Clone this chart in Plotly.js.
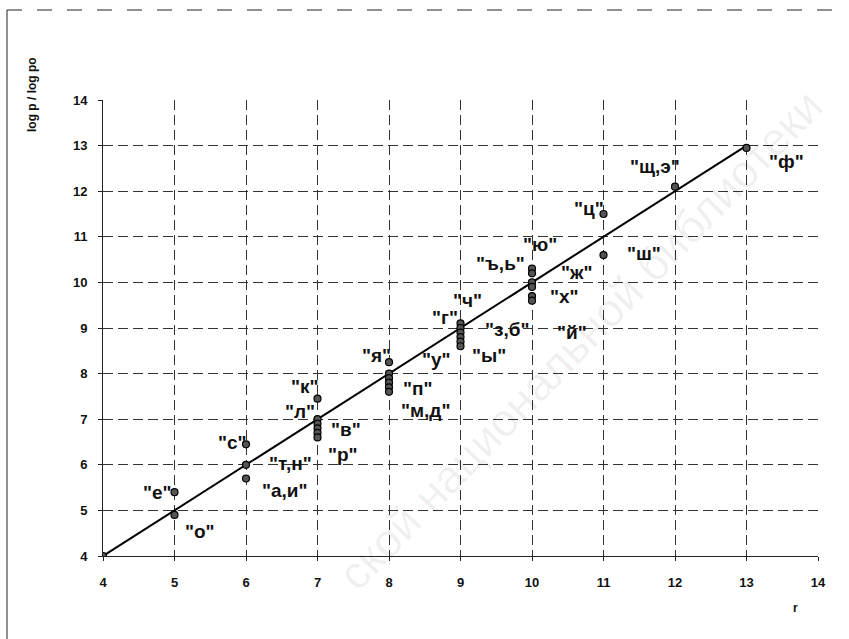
<!DOCTYPE html>
<html>
<head>
<meta charset="utf-8">
<script src="https://cdn.plot.ly/plotly-3.0.1.min.js"></script>
<style>html,body{margin:0;padding:0;background:#fff;}#chart{width:849px;height:639px;}</style>
</head>
<body>
<div id="chart"></div>
<script>
// Data
const rValues = [4, 5, 5, 6, 6, 6, 7, 7, 7, 7, 7, 7, 8, 8, 8, 8, 8, 8, 9, 9, 9, 9, 9, 9, 10, 10, 10, 10, 10, 10, 11, 11, 12, 13];
const logRatio = [4.0, 5.4, 4.9, 6.45, 6.0, 5.7, 7.45, 7.0, 6.9, 6.8, 6.7, 6.6, 8.25, 8.0, 7.9, 7.8, 7.7, 7.6, 9.1, 9.0, 8.9, 8.8, 8.7, 8.6, 10.3, 10.2, 10.0, 9.9, 9.7, 9.6, 11.5, 10.6, 12.1, 12.95];
const pointLabels = ["", "е", "о", "с", "т,н", "а,и", "к", "л", "в", "", "", "р", "я", "у", "п", "", "м,д", "", "ч", "г", "з,б", "", "", "ы", "ю", "ъ,ь", "ж", "", "й", "х", "ц", "ш", "щ,э", "ф"];
const fitX = [4, 13];
const fitY = [4, 13];
const tickVals = [4, 5, 6, 7, 8, 9, 10, 11, 12, 13, 14];

// label placement offsets (pixels) – styling only
const labelOffsets = {
  "е": [-17, 0], "о": [25, 17], "с": [-14, -2], "т,н": [44, -1], "а,и": [39, 12],
  "к": [-13, -12], "л": [-18, -8], "в": [28, 6], "р": [25, 17],
  "я": [-13, -7], "у": [47, -14], "п": [29, 10], "м,д": [36, 23],
  "г": [-16, -11], "ч": [7, -23], "з,б": [46, -3], "ы": [28, 9],
  "ъ,ь": [-32, -10], "ю": [8, -24], "ж": [45, -10], "х": [32, -4], "й": [40, 36],
  "ц": [-15, -6], "ш": [40, -2], "щ,э": [-20, -20], "ф": [40, 14]
};

const labelFont = {family: 'Liberation Sans, Arial, sans-serif', size: 19, color: '#111', weight: 'bold'};
const annotations = [];
pointLabels.forEach((lab, i) => {
  if (!lab) return;
  const off = labelOffsets[lab] || [15, -10];
  annotations.push({
    x: rValues[i], y: logRatio[i], xref: 'x', yref: 'y',
    text: '"' + lab + '"', showarrow: true, arrowcolor: 'rgba(0,0,0,0)', arrowwidth: 0.1,
    ax: off[0], ay: off[1], standoff: 0, font: labelFont
  });
});
annotations.push({
  xref: 'paper', yref: 'paper', x: (32 - 103) / 715, y: (556 - 95) / 456, xanchor: 'center', yanchor: 'middle',
  text: '<b>log p / log po</b>', textangle: -90, showarrow: false,
  font: {family: 'Liberation Sans, Arial, sans-serif', size: 12, color: '#111'}
});
annotations.push({
  xref: 'paper', yref: 'paper', x: (795 - 103) / 715, y: (556 - 608) / 456, xanchor: 'center', yanchor: 'middle',
  text: '<b>r</b>', showarrow: false,
  font: {family: 'Liberation Sans, Arial, sans-serif', size: 12, color: '#111'}
});
annotations.push({
  xref: 'paper', yref: 'paper', x: (580 - 103) / 715, y: (556 - 340) / 456, xanchor: 'center', yanchor: 'middle',
  text: 'ской национальной библиотеки', textangle: -46, showarrow: false,
  font: {family: 'Liberation Sans, Arial, sans-serif', size: 46, color: 'rgba(0,0,0,0.06)'}
});

const traces = [
  {x: fitX, y: fitY, mode: 'lines', line: {color: '#000', width: 2}, hoverinfo: 'skip', showlegend: false},
  {x: rValues, y: logRatio, mode: 'markers', showlegend: false,
   marker: {size: 7, color: '#555', line: {color: '#000', width: 1.2}}}
];

const axisCommon = {
  range: [4, 14], tickvals: tickVals, ticks: 'outside', ticklen: 4, tickcolor: '#222',
  showgrid: true, gridcolor: '#333', gridwidth: 1, griddash: '10px,5px',
  zeroline: false, showline: true, linecolor: '#222', linewidth: 1,
  tickfont: {family: 'Liberation Sans, Arial, sans-serif', size: 13, color: '#111', weight: 'bold'},
  fixedrange: true
};

const layout = {
  width: 849, height: 639,
  margin: {l: 103, r: 31, t: 100, b: 83},
  paper_bgcolor: '#fff', plot_bgcolor: '#fff',
  xaxis: Object.assign({}, axisCommon, {ticklabelstandoff: 10}),
  yaxis: Object.assign({}, axisCommon, {ticklabelstandoff: 8}),
  annotations: annotations,
  shapes: [
    {type: 'line', xref: 'paper', yref: 'paper', x0: (7 - 103) / 715, x1: (842 - 103) / 715,
     y0: (556 - 10) / 456, y1: (556 - 10) / 456, line: {color: '#222', width: 1, dash: 'longdash'}},
    {type: 'line', xref: 'paper', yref: 'paper', x0: (7 - 103) / 715, x1: (7 - 103) / 715,
     y0: (556 - 10) / 456, y1: (556 - 639) / 456, line: {color: '#222', width: 1}}
  ],
  showlegend: false
};

Plotly.newPlot('chart', traces, layout, {displayModeBar: false, staticPlot: true});
</script>
</body>
</html>
